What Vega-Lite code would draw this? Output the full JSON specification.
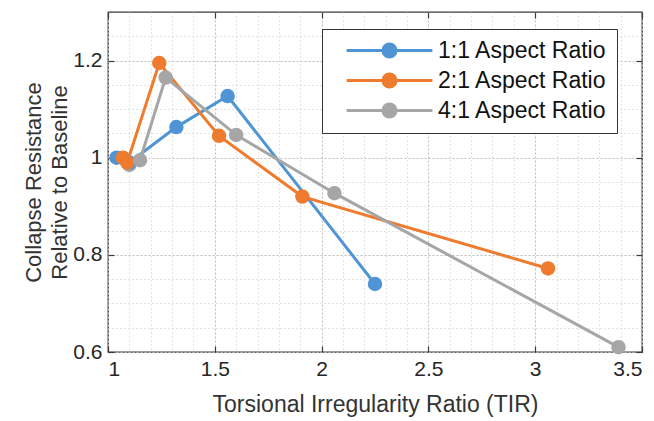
{
  "$schema": "https://vega.github.io/schema/vega-lite/v6.json",
  "width": 534,
  "height": 340,
  "autosize": "none",
  "padding": {"left": 108, "top": 12, "right": 12, "bottom": 69},
  "background": "white",
  "config": {
    "font": "Liberation Sans",
    "view": {"stroke": "#3a3a3a", "strokeWidth": 1.3},
    "axis": {"labelFontSize": 21, "labelColor": "#262626", "titleFontSize": 22, "titleFontWeight": "normal", "titleColor": "#333", "tickColor": "#3a3a3a", "tickWidth": 1.2}
  },
  "data": {
    "values": [
      {"tir": 1.04, "cr": 1.0, "series": "1:1 Aspect Ratio", "idx": 1},
      {"tir": 1.1, "cr": 0.99, "series": "1:1 Aspect Ratio", "idx": 2},
      {"tir": 1.32, "cr": 1.063, "series": "1:1 Aspect Ratio", "idx": 3},
      {"tir": 1.56, "cr": 1.127, "series": "1:1 Aspect Ratio", "idx": 4},
      {"tir": 2.25, "cr": 0.74, "series": "1:1 Aspect Ratio", "idx": 5},
      {"tir": 1.07, "cr": 1.0, "series": "2:1 Aspect Ratio", "idx": 1},
      {"tir": 1.09, "cr": 0.99, "series": "2:1 Aspect Ratio", "idx": 2},
      {"tir": 1.24, "cr": 1.195, "series": "2:1 Aspect Ratio", "idx": 3},
      {"tir": 1.52, "cr": 1.045, "series": "2:1 Aspect Ratio", "idx": 4},
      {"tir": 1.91, "cr": 0.92, "series": "2:1 Aspect Ratio", "idx": 5},
      {"tir": 3.06, "cr": 0.772, "series": "2:1 Aspect Ratio", "idx": 6},
      {"tir": 1.1, "cr": 0.985, "series": "4:1 Aspect Ratio", "idx": 1},
      {"tir": 1.15, "cr": 0.995, "series": "4:1 Aspect Ratio", "idx": 2},
      {"tir": 1.27, "cr": 1.165, "series": "4:1 Aspect Ratio", "idx": 3},
      {"tir": 1.6, "cr": 1.047, "series": "4:1 Aspect Ratio", "idx": 4},
      {"tir": 2.06, "cr": 0.927, "series": "4:1 Aspect Ratio", "idx": 5},
      {"tir": 3.39, "cr": 0.61, "series": "4:1 Aspect Ratio", "idx": 6}
    ]
  },
  "resolve": {"axis": {"x": "independent", "y": "independent"}},
  "layer": [
    {
      "mark": {"type": "point", "opacity": 0},
      "encoding": {
        "x": {"field": "tir", "type": "quantitative", "scale": {"domain": [1, 3.5], "nice": false, "zero": false},
          "axis": {"orient": "bottom", "values": [1.1,1.2,1.3,1.4,1.6,1.7,1.8,1.9,2.1,2.2,2.3,2.4,2.6,2.7,2.8,2.9,3.1,3.2,3.3,3.4], "grid": true, "gridDash": [1, 3], "gridColor": "#c8c8c8", "labels": false, "ticks": false, "domain": false, "title": null}},
        "y": {"field": "cr", "type": "quantitative", "scale": {"domain": [0.6, 1.3], "nice": false, "zero": false},
          "axis": {"orient": "left", "values": [0.65,0.7,0.75,0.85,0.9,0.95,1.05,1.1,1.15,1.25], "grid": true, "gridDash": [1, 3], "gridColor": "#c8c8c8", "labels": false, "ticks": false, "domain": false, "title": null}}
      }
    },
    {
      "mark": {"type": "point", "opacity": 0},
      "encoding": {
        "x": {"field": "tir", "type": "quantitative", "scale": {"domain": [1, 3.5], "nice": false, "zero": false},
          "axis": {"orient": "top", "values": [1, 1.5, 2, 2.5, 3, 3.5], "grid": false, "labels": false, "ticks": true, "tickSize": -6, "domain": false, "title": null}},
        "y": {"field": "cr", "type": "quantitative", "scale": {"domain": [0.6, 1.3], "nice": false, "zero": false},
          "axis": {"orient": "right", "values": [0.6, 0.8, 1, 1.2], "grid": false, "labels": false, "ticks": true, "tickSize": -6, "domain": false, "title": null}}
      }
    },
    {
      "mark": {"type": "line", "strokeWidth": 3, "point": {"filled": true, "size": 210, "opacity": 1}},
      "encoding": {
        "x": {"field": "tir", "type": "quantitative", "scale": {"domain": [1, 3.5], "nice": false, "zero": false},
          "axis": {"orient": "bottom", "values": [1, 1.5, 2, 2.5, 3, 3.5], "format": "~g", "grid": true, "gridDash": [2, 2], "gridColor": "#bdbdbd", "ticks": true, "tickSize": -6, "domain": false, "labelPadding": 12, "title": "Torsional Irregularity Ratio (TIR)", "titleFontSize": 23, "titlePadding": 14}},
        "y": {"field": "cr", "type": "quantitative", "scale": {"domain": [0.6, 1.3], "nice": false, "zero": false},
          "axis": {"orient": "left", "values": [0.6, 0.8, 1, 1.2], "format": "~g", "grid": true, "gridDash": [2, 2], "gridColor": "#bdbdbd", "ticks": true, "tickSize": -6, "domain": false, "labelPadding": 12, "title": ["Collapse Resistance", "Relative to Baseline"], "titlePadding": 1, "titleLineHeight": 26}},
        "order": {"field": "idx", "type": "quantitative"},
        "color": {"field": "series", "type": "nominal",
          "scale": {"domain": ["1:1 Aspect Ratio", "2:1 Aspect Ratio", "4:1 Aspect Ratio"], "range": ["#4f95d6", "#ee7b2e", "#a6a6a6"]},
          "legend": {"orient": "none", "legendX": 214, "legendY": 17, "title": null,
            "symbolType": "M-6.6,0H6.6M-1,0A1,1 0 1,1 1,0A1,1 0 1,1 -1,0Z",
            "symbolSize": 169, "symbolStrokeWidth": 3, "symbolOffset": 46, "labelOffset": 37,
            "labelFontSize": 23, "labelColor": "#111", "labelLimit": 300, "padding": 10, "rowPadding": 5,
            "labelExpr": "datum.label + '  '",
            "fillColor": "white", "strokeColor": "#333",
            "encode": {"symbols": {"update": {"fill": {"scale": "color", "field": "value"}, "stroke": {"scale": "color", "field": "value"}, "opacity": {"value": 1}}}}}}
      }
    }
  ]
}
